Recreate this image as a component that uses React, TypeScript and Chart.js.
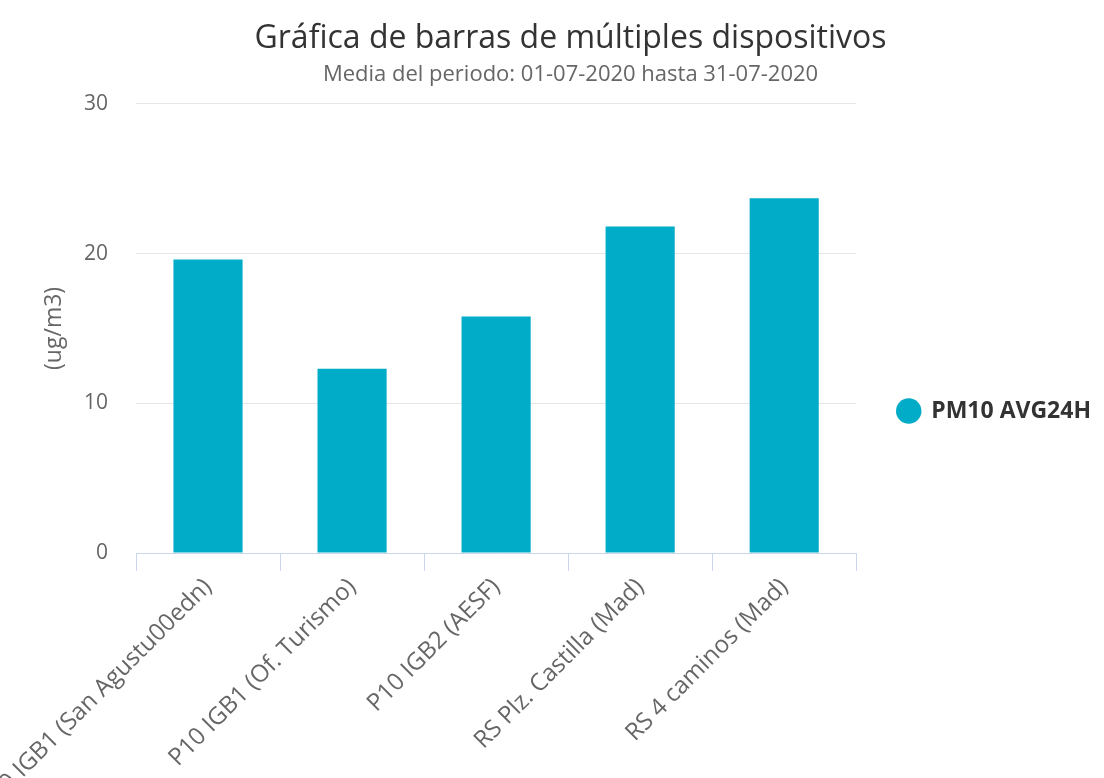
import React, { useEffect, useRef } from 'react';
import { Chart, registerables } from 'chart.js';

Chart.register(...registerables);

const categories = [
  'P10 IGB1 (San Agustu00edn)',
  'P10 IGB1 (Of. Turismo)',
  'P10 IGB2 (AESF)',
  'RS Plz. Castilla (Mad)',
  'RS 4 caminos (Mad)',
];
const pm10Values = [19.6, 12.3, 15.8, 21.8, 23.7];
const yTicks = [0, 10, 20, 30];
const seriesName = 'PM10 AVG24H';
const titleText = 'Gráfica de barras de múltiples dispositivos';
const subtitleText = 'Media del periodo: 01-07-2020 hasta 31-07-2020';
const yAxisTitle = '(ug/m3)';

const FONT = "'Open Sans', sans-serif";

export default function App() {
  const ref = useRef<HTMLCanvasElement>(null);
  useEffect(() => {
    document.body.style.margin = '0';
    const chart = new Chart(ref.current!, {
      type: 'bar',
      data: {
        labels: categories,
        datasets: [
          {
            label: seriesName,
            data: pm10Values,
            backgroundColor: '#00acc7',
            borderWidth: 0,
            barPercentage: 0.48,
            categoryPercentage: 1,
          },
        ],
      },
      options: {
        animation: false,
        responsive: true,
        maintainAspectRatio: false,
        layout: { padding: { left: 40, right: 3, top: 0, bottom: -44 } },
        plugins: {
          title: {
            display: true,
            text: titleText,
            color: '#333333',
            font: { family: FONT, size: 32, weight: 'normal', lineHeight: 1.2 },
            padding: { top: 20, bottom: 0 },
          },
          subtitle: {
            display: true,
            text: subtitleText,
            color: '#666666',
            font: { family: FONT, size: 22, weight: 'normal', lineHeight: 1.2 },
            padding: { top: 3, bottom: 16 },
          },
          legend: {
            position: 'right',
            align: 'center',
            labels: {
              usePointStyle: true,
              pointStyle: 'circle',
              boxWidth: 22,
              boxHeight: 18,
              padding: 41.5,
              color: '#333333',
              font: { family: FONT, size: 23, weight: 'bold' },
            },
          },
          tooltip: { enabled: false },
        },
        scales: {
          x: {
            grid: {
              drawOnChartArea: false,
              drawTicks: true,
              tickLength: 18,
              color: '#ccd6eb',
              offset: true,
            },
            border: { color: '#ccd6eb', width: 1 },
            ticks: {
              autoSkip: false,
              minRotation: 45,
              maxRotation: 45,
              color: '#666666',
              padding: 2,
              font: { family: FONT, size: 24 },
            },
            afterFit: (s: any) => {
              s.height = 269;
              s.paddingLeft = 0;
              s.paddingRight = 0;
            },
          },
          y: {
            min: 0,
            max: 30,
            grid: { color: '#e6e6e6', drawTicks: false },
            border: { display: false },
            ticks: {
              padding: 28,
              color: '#666666',
              font: { family: FONT, size: 21 },
            },
            afterBuildTicks: (s: any) => {
              s.ticks = yTicks.map((v) => ({ value: v }));
            },
            title: {
              display: true,
              text: yAxisTitle,
              color: '#666666',
              font: { family: FONT, size: 23, lineHeight: 1.2 },
              padding: { top: 1, bottom: 0 },
            },
            afterFit: (s: any) => {
              s.width = 96;
            },
          },
        },
      },
    });
    return () => chart.destroy();
  }, []);
  return (
    <div style={{ width: 1104, height: 778, position: 'relative' }}>
      <canvas ref={ref} />
    </div>
  );
}
